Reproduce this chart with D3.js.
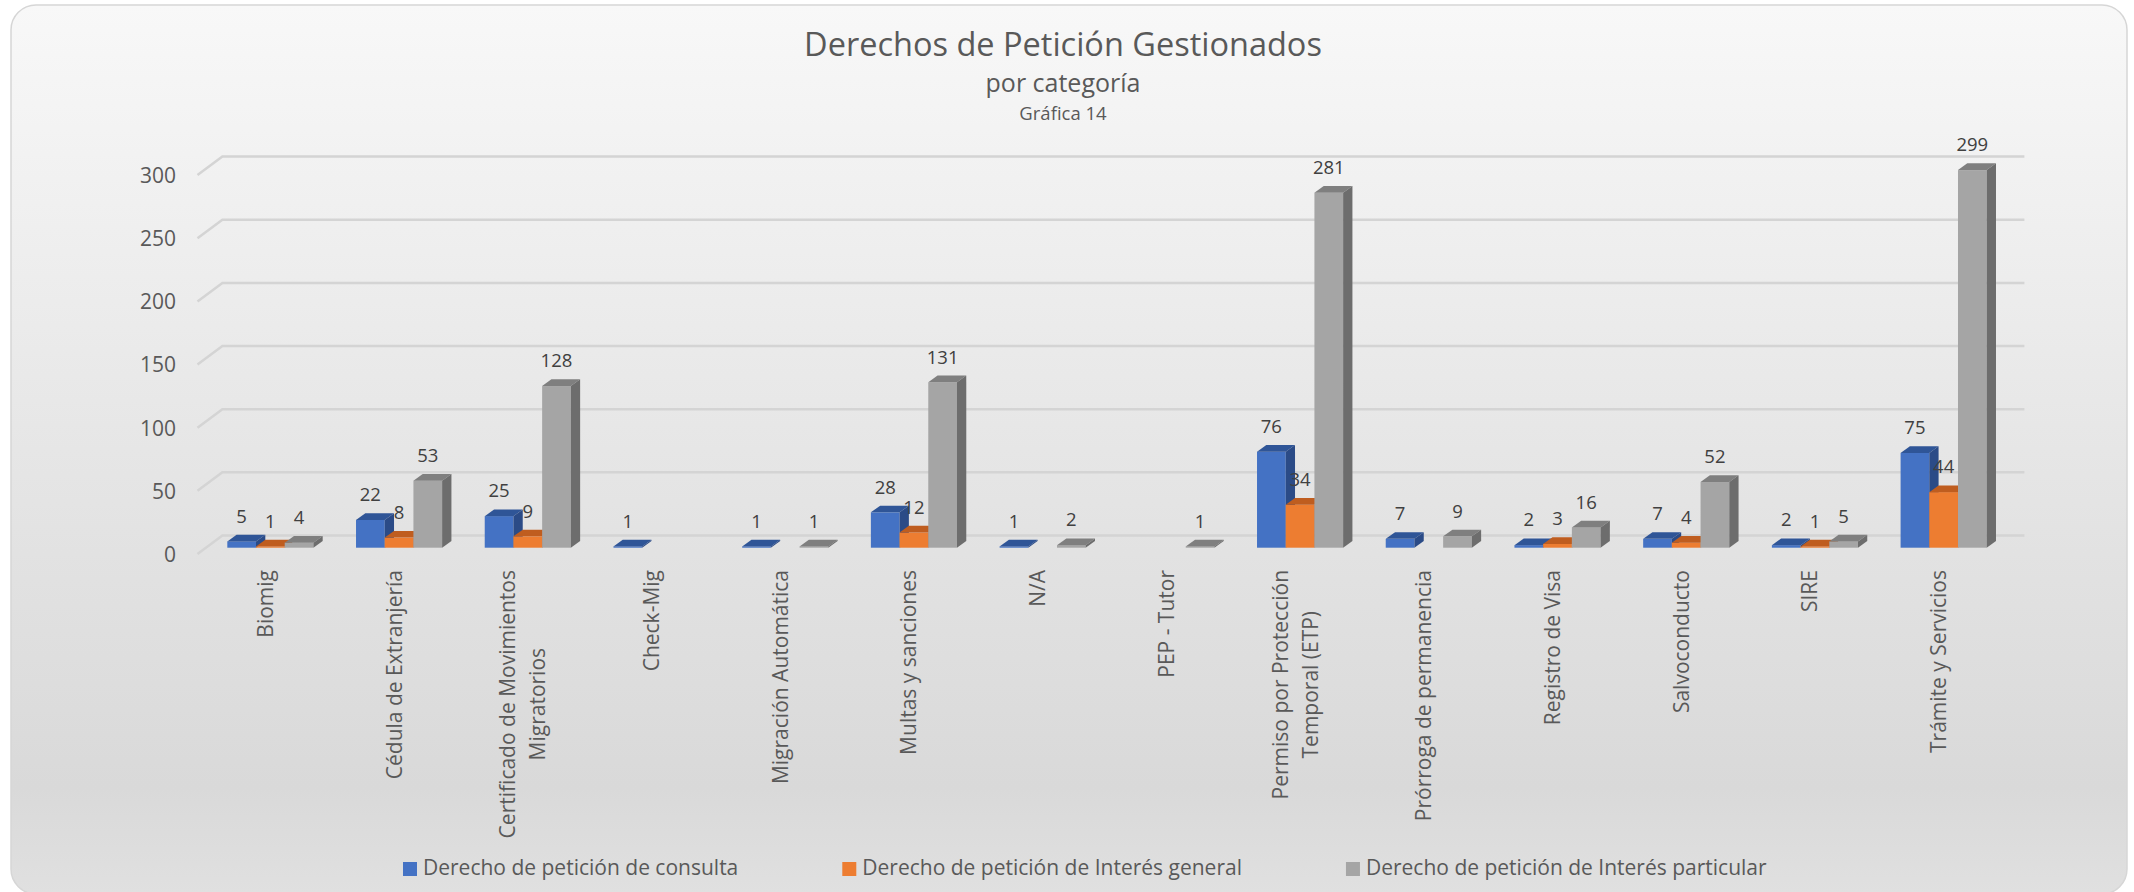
<!DOCTYPE html>
<html>
<head>
<meta charset="utf-8">
<script src="https://cdn.jsdelivr.net/npm/d3@7"></script>
<style>
  html, body { margin: 0; padding: 0; background: #ffffff; }
  svg { display: block; }
  text { font-family: "Open Sans", "Noto Sans", sans-serif; }
</style>
</head>
<body>
<svg id="chart" width="2134" height="892"></svg>
<script>
// ---------- data ----------
const categories = [
  "Biomig", "Cédula de Extranjería", "Certificado de Movimientos Migratorios",
  "Check-Mig", "Migración Automática", "Multas y sanciones", "N/A", "PEP - Tutor",
  "Permiso por Protección Temporal (ETP)", "Prórroga de permanencia",
  "Registro de Visa", "Salvoconducto", "SIRE", "Trámite y Servicios"
];
const categoryLines = [
  ["Biomig"], ["Cédula de Extranjería"], ["Certificado de Movimientos", "Migratorios"],
  ["Check-Mig"], ["Migración Automática"], ["Multas y sanciones"], ["N/A"], ["PEP - Tutor"],
  ["Permiso por Protección", "Temporal (ETP)"], ["Prórroga de permanencia"],
  ["Registro de Visa"], ["Salvoconducto"], ["SIRE"], ["Trámite y Servicios"]
];
const seriesNames = [
  "Derecho de petición de consulta",
  "Derecho de petición de Interés general",
  "Derecho de petición de Interés particular"
];
const consulta   = [5, 22, 25, 1, 1, 28, 1, null, 76, 7, 2, 7, 2, 75];
const general    = [1, 8, 9, null, null, 12, null, null, 34, null, 3, 4, 1, 44];
const particular = [4, 53, 128, null, 1, 131, 2, 1, 281, 9, 16, 52, 5, 299];
const yTicks = [0, 50, 100, 150, 200, 250, 300];

const titleText = "Derechos de Petición Gestionados";
const subtitleText = "por categoría";
const subtitle2Text = "Gráfica 14";

// ---------- styles ----------
const colors = [
  { front: "#4472c4", top: "#2f5597", side: "#2b4b87" },
  { front: "#ed7d31", top: "#bf5d1f", side: "#ae541c" },
  { front: "#a5a5a5", top: "#7f7f7f", side: "#6d6d6d" }
];
const textColor = "#595959";

const svg = d3.select("#chart");
const defs = svg.append("defs");
const grad = defs.append("linearGradient").attr("id", "bg").attr("x1", 0).attr("y1", 0).attr("x2", 0).attr("y2", 1);
grad.append("stop").attr("offset", "0").attr("stop-color", "#f8f8f8");
grad.append("stop").attr("offset", "0.5").attr("stop-color", "#e6e6e6");
grad.append("stop").attr("offset", "0.88").attr("stop-color", "#d9d9d9");
grad.append("stop").attr("offset", "1").attr("stop-color", "#e0e0e0");

svg.append("rect")
  .attr("x", 11).attr("y", 5).attr("width", 2116).attr("height", 889)
  .attr("rx", 25).attr("ry", 25)
  .attr("fill", "url(#bg)").attr("stroke", "#d6d6d6").attr("stroke-width", 1.5);

// ---------- scales ----------
const x = d3.scaleBand().domain(categories).range([198, 2000]).paddingInner(0).paddingOuter(0);
const pxPerUnit = 1.263;
const yFront = d3.scaleLinear().domain([0, 300]).range([554, 554 - 300 * pxPerUnit]);
const backDX = 24.4, backDY = 18.5;    // back wall offset
const barDX = 8, barDY = 6.3;          // bar plane offset
const depthDX = 9.3, depthDY = 6.7;    // bar depth
const groupW = 86.1;
const sub = d3.scaleBand().domain([0, 1, 2]).range([0, groupW]);

// ---------- gridlines ----------
const grid = svg.append("g");
yTicks.forEach(v => {
  const yf = yFront(v), yb = yf - backDY;
  grid.append("path")
    .attr("d", `M${x.range()[0] - 0.5},${yf} L${x.range()[0] + backDX},${yb} L${x.range()[1] + backDX},${yb}`)
    .attr("fill", "none").attr("stroke", "#d4d4d4").attr("stroke-width", 2.5);
});

// ---------- y axis ----------
const yAxis = d3.axisLeft(yFront).tickValues(yTicks).tickSize(0).tickPadding(0);
const ax = svg.append("g").attr("transform", "translate(176,0)").call(yAxis);
ax.select(".domain").remove();
ax.selectAll("text")
  .attr("font-size", 21).attr("fill", textColor)
  .attr("font-family", "'Open Sans', sans-serif")
  .attr("dy", "0.35em");

// ---------- bars ----------
const seriesData = [consulta, general, particular];
const bars = svg.append("g");
categories.forEach((c, i) => {
  const gx = x(c) + x.bandwidth() / 2 + barDX - groupW / 2;
  seriesData.forEach((arr, s) => {
    const v = arr[i];
    if (v === null || v === undefined) return;
    const bx = gx + sub(s), bw = sub.bandwidth();
    const base = yFront(0) - barDY;
    const yt = yFront(v) - barDY;
    const col = colors[s];
    bars.append("rect").attr("x", bx).attr("y", yt).attr("width", bw).attr("height", base - yt)
      .attr("fill", col.front);
    bars.append("path")
      .attr("d", `M${bx},${yt} L${bx + depthDX},${yt - depthDY} L${bx + bw + depthDX},${yt - depthDY} L${bx + bw},${yt} Z`)
      .attr("fill", col.top);
    bars.append("path")
      .attr("d", `M${bx + bw},${yt} L${bx + bw + depthDX},${yt - depthDY} L${bx + bw + depthDX},${base - depthDY} L${bx + bw},${base} Z`)
      .attr("fill", col.side);
  });
});

// ---------- data labels ----------
const labels = svg.append("g");
categories.forEach((c, i) => {
  const gx = x(c) + x.bandwidth() / 2 + barDX - groupW / 2;
  seriesData.forEach((arr, s) => {
    const v = arr[i];
    if (v === null || v === undefined) return;
    const cx = gx + sub(s) + sub.bandwidth() / 2;
    const yt = yFront(v) - barDY - depthDY;
    labels.append("text")
      .attr("x", cx).attr("y", yt - 12)
      .attr("text-anchor", "middle")
      .attr("font-size", 18.5).attr("fill", "#404040")
      .text(v);
  });
});

// ---------- category labels ----------
const catG = svg.append("g");
const labelTop = 570, lineGap = 30;
categories.forEach((c, i) => {
  const lines = categoryLines[i];
  const cx = x(c) + x.bandwidth() / 2 + 2.5;
  const t = catG.append("text")
    .attr("font-size", 21).attr("fill", textColor)
    .attr("text-anchor", "middle")
    .attr("dominant-baseline", "central");
  lines.forEach((ln, k) => {
    t.append("tspan").attr("x", 0).attr("y", (k - (lines.length - 1) / 2) * lineGap).text(ln);
  });
  let maxLen = 0;
  t.selectAll("tspan").each(function () { maxLen = Math.max(maxLen, this.getComputedTextLength()); });
  t.attr("transform", `translate(${cx},${labelTop + maxLen / 2}) rotate(-90)`);
});

// ---------- titles ----------
svg.append("text").attr("x", 1063).attr("y", 56).attr("text-anchor", "middle")
  .attr("font-size", 32.5).attr("fill", textColor).text(titleText);
svg.append("text").attr("x", 1063).attr("y", 92).attr("text-anchor", "middle")
  .attr("font-size", 25).attr("fill", textColor).text(subtitleText);
svg.append("text").attr("x", 1063).attr("y", 120).attr("text-anchor", "middle")
  .attr("font-size", 18.5).attr("fill", textColor).text(subtitle2Text);

// ---------- legend ----------
const leg = svg.append("g");
let lx = 403;
seriesNames.forEach((name, s) => {
  leg.append("rect").attr("x", lx).attr("y", 862).attr("width", 14).attr("height", 14)
    .attr("fill", colors[s].front);
  const t = leg.append("text").attr("x", lx + 20).attr("y", 875)
    .attr("font-size", 21).attr("fill", textColor).text(name);
  lx = lx + 20 + t.node().getComputedTextLength() + 104;
});
</script>
</body>
</html>
